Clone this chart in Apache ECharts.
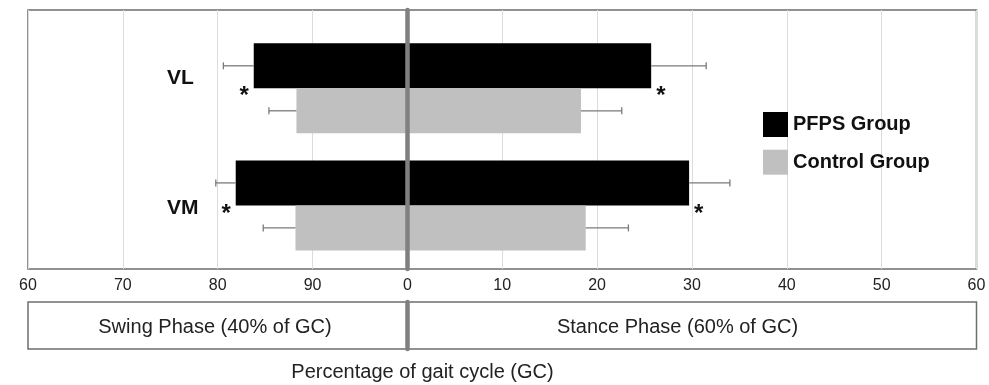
<!DOCTYPE html>
<html><head><meta charset="utf-8">
<script src="https://cdn.jsdelivr.net/npm/echarts@6/dist/echarts.min.js"></script>
<style>html,body{margin:0;padding:0;background:#fff}#c{width:989px;height:385px}</style>
</head><body><div id="c"></div>
<script>
// ---- data ----
const categories = ['VL', 'VM'];
const groups = ['PFPS Group', 'Control Group'];
// swing phase: % of gait cycle where activity starts (bar runs to 100% = 0)
const swingPFPS = [83.8, 81.9];
const swingControl = [88.3, 88.2];
const swingPFPSErr = [3.2, 2.1];
const swingControlErr = [2.9, 3.4];
// stance phase: % of gait cycle where activity ends
const stancePFPS = [25.7, 29.7];
const stanceControl = [18.3, 18.8];
const stancePFPSErr = [5.8, 4.3];
const stanceControlErr = [4.3, 4.5];
const xTickLabels = [60, 70, 80, 90, 0, 10, 20, 30, 40, 50, 60];
const significance = ['*', '*'];
const phaseLabels = ['Swing Phase (40% of GC)', 'Stance Phase (60% of GC)'];
const axisTitle = 'Percentage of gait cycle (GC)';

// ---- chart ----
const FONT = 'Arial, "Liberation Sans", sans-serif';
const chart = echarts.init(document.getElementById('c'));

const errData = [];
categories.forEach((c, i) => {
  const sp = swingPFPS[i] - 100, sc = swingControl[i] - 100;
  errData.push([sp, sp - swingPFPSErr[i], i, 0]);
  errData.push([sc, sc - swingControlErr[i], i, 1]);
  errData.push([stancePFPS[i], stancePFPS[i] + stancePFPSErr[i], i, 0]);
  errData.push([stanceControl[i], stanceControl[i] + stanceControlErr[i], i, 1]);
});

const BAR_W = 45;
function renderErr(params, api) {
  const x0 = api.value(0), x1 = api.value(1), ci = api.value(2), g = api.value(3);
  const cy = api.coord([0, ci])[1] + (g === 0 ? -BAR_W / 2 : BAR_W / 2);
  const p0 = api.coord([x0, ci])[0], p1 = api.coord([x1, ci])[0];
  const st = { stroke: '#7a7a7a', lineWidth: 1.3 };
  return { type: 'group', children: [
    { type: 'line', shape: { x1: p0, y1: cy, x2: p1, y2: cy }, style: st },
    { type: 'line', shape: { x1: p1, y1: cy - 3.5, x2: p1, y2: cy + 3.5 }, style: st }
  ]};
}

const starLabel = (pos) => ({
  show: true, position: pos, distance: 5, offset: [0, 31],
  formatter: p => significance[p.dataIndex],
  fontSize: 24, fontWeight: 'bold', color: '#111', fontFamily: FONT
});

const GL = 28, GR = 12.5;
const gridBase = { left: GL, right: GR, containLabel: false, outerBoundsMode: 'none' };
const option = {
  animation: false,
  textStyle: { fontFamily: FONT },
  grid: [
    Object.assign({}, gridBase, { top: 10, height: 259, show: true, borderColor: '#6e6e6e', borderWidth: 1.5, backgroundColor: 'transparent' }),
    Object.assign({}, gridBase, { top: 29.75, height: 234.2 }),
    Object.assign({}, gridBase, { top: 302, height: 47, show: true, borderColor: '#6e6e6e', borderWidth: 1.5, backgroundColor: 'transparent' })
  ],
  xAxis: [
    { gridIndex: 0, type: 'value', min: -40, max: 60, interval: 10,
      axisLine: { show: false }, axisTick: { show: false },
      splitLine: { show: true, lineStyle: { color: '#dcdcdc', width: 1 } },
      axisLabel: { margin: 9, fontSize: 16, color: '#222',
        formatter: v => String(xTickLabels[Math.round((v + 40) / 10)]) } },
    { gridIndex: 1, type: 'value', min: -40, max: 60, show: false },
    { gridIndex: 2, type: 'value', min: -40, max: 60, show: false }
  ],
  yAxis: [
    { gridIndex: 0, type: 'category', data: categories, inverse: true, z: 6,
      axisLine: { show: true, onZero: true, lineStyle: { color: '#808080', width: 4.5 } },
      axisTick: { show: false },
      axisLabel: { inside: true, align: 'left', margin: 139,
        formatter: v => '{c|' + v + '}',
        rich: { c: { fontSize: 21, fontWeight: 'bold', color: '#111', fontFamily: FONT, padding: [7, 0, 0, 0] } } } },
    { gridIndex: 1, type: 'category', data: categories, inverse: true, show: false },
    { gridIndex: 2, type: 'category', data: [''], z: 6,
      axisLine: { show: true, onZero: true, lineStyle: { color: '#808080', width: 4.5 } },
      axisTick: { show: false }, axisLabel: { show: false } }
  ],
  legend: {
    data: groups, orient: 'vertical', left: 758, top: 107, itemWidth: 25, itemHeight: 25, itemGap: 12.7,
    icon: 'rect', selectedMode: false,
    textStyle: { fontSize: 20, fontWeight: 'bold', color: '#111', fontFamily: FONT }
  },
  series: [
    { type: 'bar', name: groups[0], xAxisIndex: 1, yAxisIndex: 1, stack: 'pfps', barWidth: BAR_W, barGap: '0%',
      data: swingPFPS.map(v => v - 100), itemStyle: { color: '#000' }, label: starLabel('left') },
    { type: 'bar', name: groups[0], xAxisIndex: 1, yAxisIndex: 1, stack: 'pfps', barWidth: BAR_W, barGap: '0%',
      data: stancePFPS, itemStyle: { color: '#000' }, label: starLabel('right') },
    { type: 'bar', name: groups[1], xAxisIndex: 1, yAxisIndex: 1, stack: 'ctrl', barWidth: BAR_W, barGap: '0%',
      data: swingControl.map(v => v - 100), itemStyle: { color: '#c0c0c0' } },
    { type: 'bar', name: groups[1], xAxisIndex: 1, yAxisIndex: 1, stack: 'ctrl', barWidth: BAR_W, barGap: '0%',
      data: stanceControl, itemStyle: { color: '#c0c0c0' } },
    { type: 'custom', name: 'err', xAxisIndex: 1, yAxisIndex: 1, renderItem: renderErr,
      encode: { x: [0, 1], y: 2 }, data: errData, z: 3, silent: true }
  ],
  graphic: [
    { type: 'text', x: 215, y: 327, style: { text: phaseLabels[0], fill: '#222', font: '20px ' + FONT, align: 'center', verticalAlign: 'middle' } },
    { type: 'text', x: 677.5, y: 327, style: { text: phaseLabels[1], fill: '#222', font: '20px ' + FONT, align: 'center', verticalAlign: 'middle' } },
    { type: 'text', x: 422.5, y: 372, style: { text: axisTitle, fill: '#222', font: '20px ' + FONT, align: 'center', verticalAlign: 'middle' } }
  ]
};
chart.setOption(option);
</script>
</body></html>
